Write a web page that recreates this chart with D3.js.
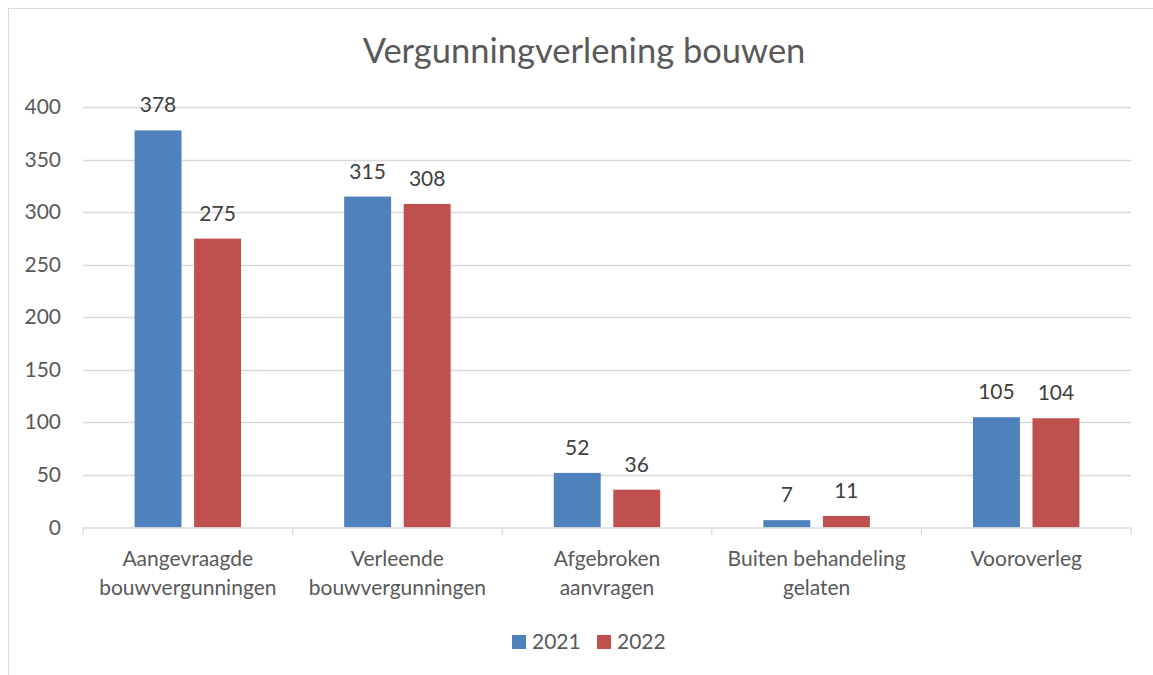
<!DOCTYPE html>
<html><head><meta charset="utf-8">
<script src="https://cdn.jsdelivr.net/npm/d3@7"></script>
<style>body{margin:0;background:#fff;} svg{display:block;}</style>
</head><body>
<svg id="c" width="1153" height="675"></svg>
<script>
const categories = [["Aangevraagde","bouwvergunningen"],["Verleende","bouwvergunningen"],["Afgebroken","aanvragen"],["Buiten behandeling","gelaten"],["Vooroverleg"]];
const seriesNames = ["2021","2022"];
const values2021 = [378,315,52,7,105];
const values2022 = [275,308,36,11,104];
const yTicks = [0,50,100,150,200,250,300,350,400];
const colors = ["#4f81bd","#c0504d"];
const font = "Lato, 'Open Sans', sans-serif";
const fs = 21;

const svg = d3.select("#c");
svg.append("rect").attr("x",8.5).attr("y",8.5).attr("width",1200).attr("height",700)
  .attr("fill","none").attr("stroke","#d9d9d9").attr("stroke-width",1);

const L=83, R=1131, T=107.3, B=527.5;
const x = d3.scaleBand().domain(d3.range(categories.length)).range([L,R]).paddingInner(0).paddingOuter(0);
const y = d3.scaleLinear().domain([0,400]).range([B,T]);
const bw = x.bandwidth()*0.224, gap = x.bandwidth()*0.06;

svg.append("text").attr("x",584).attr("y",63).attr("text-anchor","middle")
  .attr("font-family",font).attr("font-size",34.5).attr("fill","#595959").text("Vergunningverlening bouwen");

const g = svg.append("g");
g.selectAll("line.grid").data(yTicks.filter(d=>d>0)).join("line")
  .attr("x1",L).attr("x2",R).attr("y1",d=>Math.round(y(d))+0.5).attr("y2",d=>Math.round(y(d))+0.5)
  .attr("stroke","#d9d9d9").attr("stroke-width",1.3);
g.selectAll("text.yt").data(yTicks).join("text")
  .attr("x",61).attr("y",d=>y(d)+7).attr("text-anchor","end")
  .attr("font-family",font).attr("font-size",fs).attr("fill","#595959").text(d=>d);

const series = [values2021, values2022];
series.forEach((vals,si)=>{
  vals.forEach((v,i)=>{
    const cx = x(i)+x.bandwidth()/2;
    const bx = si===0 ? cx-gap/2-bw : cx+gap/2;
    g.append("rect").attr("x",bx).attr("y",y(v)).attr("width",bw).attr("height",B-y(v)).attr("fill",colors[si]);
    g.append("text").attr("x",bx+bw/2).attr("y",y(v)-18).attr("text-anchor","middle")
      .attr("font-family",font).attr("font-size",fs).attr("fill","#404040").text(v);
  });
});

// axis
g.append("line").attr("x1",L).attr("x2",R).attr("y1",B+0.5).attr("y2",B+0.5).attr("stroke","#d9d9d9").attr("stroke-width",1.3);
d3.range(categories.length+1).forEach(i=>{
  const tx = i<categories.length ? x(i) : R;
  g.append("line").attr("x1",tx).attr("x2",tx).attr("y1",B).attr("y2",B+7).attr("stroke","#d9d9d9").attr("stroke-width",1.3);
});
categories.forEach((lines,i)=>{
  const t = g.append("text").attr("text-anchor","middle").attr("font-family",font).attr("font-size",fs).attr("fill","#595959");
  lines.forEach((ln,k)=>{
    t.append("tspan").attr("x",x(i)+x.bandwidth()/2).attr("y",566+k*29).text(ln);
  });
});

// legend
const leg = svg.append("g");
const legX = [512, 597];
seriesNames.forEach((n,i)=>{
  leg.append("rect").attr("x",legX[i]).attr("y",635).attr("width",14).attr("height",14).attr("fill",colors[i]);
  leg.append("text").attr("x",legX[i]+20).attr("y",649).attr("font-family",font).attr("font-size",fs).attr("fill","#595959").text(n);
});
</script>
</body></html>
